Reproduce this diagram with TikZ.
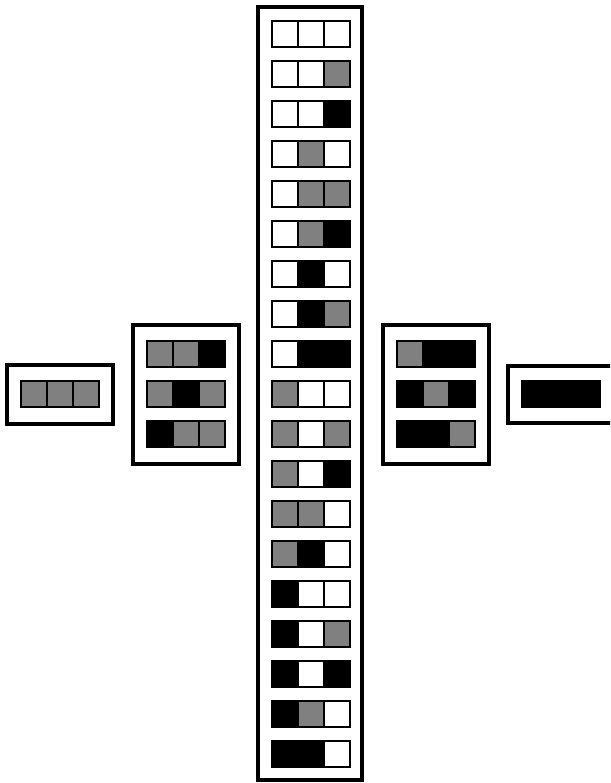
\documentclass[tikz,border=0pt]{standalone}
\definecolor{G}{HTML}{808080}
\colorlet{W}{white}
\colorlet{B}{black}
\tikzset{
  outerbox/.style={draw=black,line width=3.5pt,fill=white},
  cellbox/.style={draw=black,line width=1.1pt}
}
\newcommand\cellrow[3]{%
  \begin{scope}[shift={(#1,#2)}]
    \edef\mycells{#3}%
    \foreach \c [count=\i from 0] in \mycells
      \draw[cellbox,fill=\c] (\i*26,0) rectangle ++(26,26);
  \end{scope}}
\begin{document}
\begin{tikzpicture}[x=1pt,y=-1pt]
\useasboundingbox (0,0) rectangle (610,783);
\begin{scope}
\clip (0,0) rectangle (610,783);
% outer boxes
\draw[outerbox] (258,7) rectangle (362,780);
\draw[outerbox] (7,365) rectangle (113,424);
\draw[outerbox] (133,325) rectangle (239,464);
\draw[outerbox] (383,325) rectangle (489,464);
\draw[outerbox] (508,366) rectangle (616,423);
% center column
\foreach \p [count=\k from 0] in {
  {W,W,W},{W,W,G},{W,W,B},{W,G,W},{W,G,G},{W,G,B},{W,B,W},{W,B,G},{W,B,B},
  {G,W,W},{G,W,G},{G,W,B},{G,G,W},{G,B,W},{B,W,W},{B,W,G},{B,W,B},{B,G,W},{B,B,W}}
  {\cellrow{272}{21+40*\k}{\p}}
% left
\cellrow{21}{381}{G,G,G}
% left middle
\cellrow{147}{341}{G,G,B}
\cellrow{147}{381}{G,B,G}
\cellrow{147}{421}{B,G,G}
% right middle
\cellrow{397}{341}{G,B,B}
\cellrow{397}{381}{B,G,B}
\cellrow{397}{421}{B,B,G}
% right
\cellrow{522}{381}{B,B,B}
\end{scope}
\end{tikzpicture}
\end{document}
